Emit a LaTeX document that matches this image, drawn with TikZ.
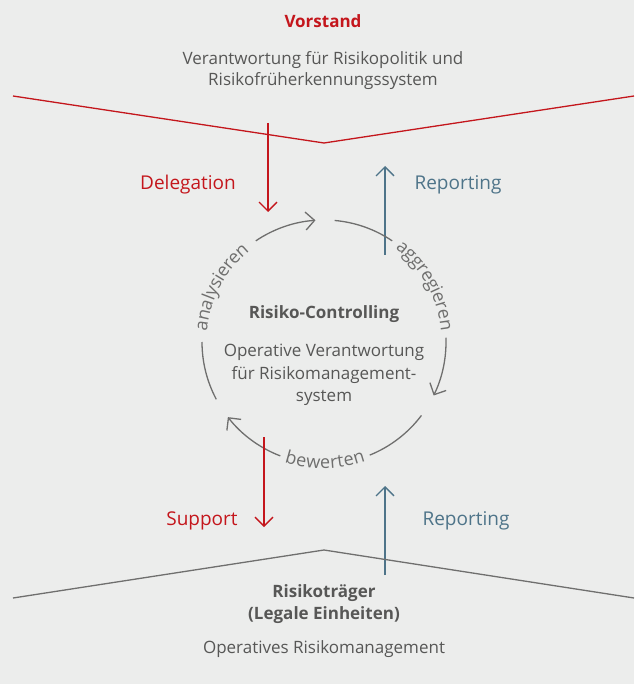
\documentclass[tikz,border=0pt]{standalone}
\usepackage{fontspec}
\setmainfont{Open Sans}
\usetikzlibrary{arrows.meta,decorations.text}

\definecolor{bg}{HTML}{ECEDEC}
\definecolor{kred}{HTML}{C4161C}
\definecolor{kblue}{HTML}{4E7489}
\definecolor{ktext}{HTML}{575756}
\definecolor{kgray}{HTML}{6F6F6E}

\newcommand{\cyclefont}{\fontsize{18}{22}\selectfont}

\tikzset{
  x=1pt, y=1pt,
  body/.style={font=\fontsize{17}{21}\selectfont, text=ktext, inner sep=0pt, anchor=base},
  head/.style={font=\fontsize{17}{21}\selectfont\bfseries, inner sep=0pt, anchor=base},
  flowlbl/.style={font=\fontsize{19}{23}\selectfont, inner sep=0pt, anchor=base},
  flowarrow/.style={line width=1.3pt, -{Straight Barb[length=9pt,width=18pt]}},
  cyclearc/.style={draw=kgray, line width=1.3pt},
  cyclearrow/.style={cyclearc, -{Straight Barb[length=9pt,width=18pt]}},
  cyclelabel/.style={decorate, decoration={text along path, text={|\cyclefont|#1},
      text align=center, raise=-4.5pt, text color=kgray}},
  boundary/.style={line width=1.3pt, line join=miter},
}

\begin{document}
\begin{tikzpicture}
  % canvas
  \fill[bg] (0,0) rectangle (634,-684);
  \useasboundingbox (0,0) rectangle (634,-684);

  % ---- Vorstand block
  \node[head, text=kred] (vorstand) at (323,-28) {Vorstand};
  \node[body] (vorstand1) at (323,-65) {Verantwortung für Risikopolitik und};
  \node[body] (vorstand2) at (323,-86) {Risikofrüherkennungssystem};

  % upper boundary
  \coordinate (tl) at (13,-96);
  \coordinate (tm) at (324,-143);
  \coordinate (tr) at (634,-96);
  \draw[boundary, kred] (tl) -- (tm) -- (tr);

  % ---- flows between Vorstand and Risiko-Controlling
  \coordinate (delS) at (268,-123);
  \coordinate (delE) at (268,-212);
  \draw[flowarrow, kred] (delS) -- (delE);
  \node[flowlbl, text=kred] (delegation) at (188,-190) {Delegation};

  \coordinate (repS) at (385,-255);
  \coordinate (repE) at (385,-166);
  \draw[flowarrow, kblue] (repS) -- (repE);
  \node[flowlbl, text=kblue] (reporting1) at (458,-190) {Reporting};

  % ---- control cycle
  \coordinate (C) at (324,-342);
  % analysieren
  \draw[cyclearc] (C) ++(208:122) arc[start angle=208, end angle=180, radius=122];
  \path[cyclelabel=analysieren] (C) ++(180:122) arc[start angle=180, end angle=124, radius=122];
  \draw[cyclearrow] (C) ++(124:122) arc[start angle=124, end angle=94, radius=122];
  % aggregieren
  \draw[cyclearc] (C) ++(85:122) arc[start angle=85, end angle=56, radius=122];
  \path[cyclelabel=aggregieren] (C) ++(56:122) arc[start angle=56, end angle=2, radius=122];
  \draw[cyclearrow] (C) ++(2:122) arc[start angle=2, end angle=-26, radius=122];
  % bewerten
  \draw[cyclearc] (C) ++(-37:122) arc[start angle=-37, end angle=-68, radius=122];
  \path[cyclelabel=bewerten] (C) ++(-111:122) arc[start angle=-111, end angle=-68, radius=122];
  \draw[cyclearrow] (C) ++(-111:122) arc[start angle=-111, end angle=-142, radius=122];

  % centre text
  \node[head, text=ktext] (rc) at (324,-318) {Risiko-Controlling};
  \node[body] (rc1) at (324,-356) {Operative Verantwortung};
  \node[body] (rc2) at (324,-379) {für Risikomanagement-};
  \node[body] (rc3) at (324,-401) {system};

  % ---- flows between Risiko-Controlling and Risikoträger
  \coordinate (supS) at (264,-437);
  \coordinate (supE) at (264,-527);
  \draw[flowarrow, kred] (supS) -- (supE);
  \node[flowlbl, text=kred] (support) at (202,-525) {Support};

  \coordinate (rep2S) at (385,-575);
  \coordinate (rep2E) at (385,-486);
  \draw[flowarrow, kblue] (rep2S) -- (rep2E);
  \node[flowlbl, text=kblue] (reporting2) at (466,-525) {Reporting};

  % lower boundary
  \coordinate (bl) at (13,-598);
  \coordinate (bm) at (324,-550);
  \coordinate (br) at (634,-598);
  \draw[boundary, kgray] (bl) -- (bm) -- (br);

  % ---- Risikoträger block
  \node[head, text=ktext] (traeger1) at (324,-597) {Risikoträger};
  \node[head, text=ktext] (traeger2) at (324,-619) {(Legale Einheiten)};
  \node[body] (traeger3) at (324,-653) {Operatives Risikomanagement};
\end{tikzpicture}
\end{document}
